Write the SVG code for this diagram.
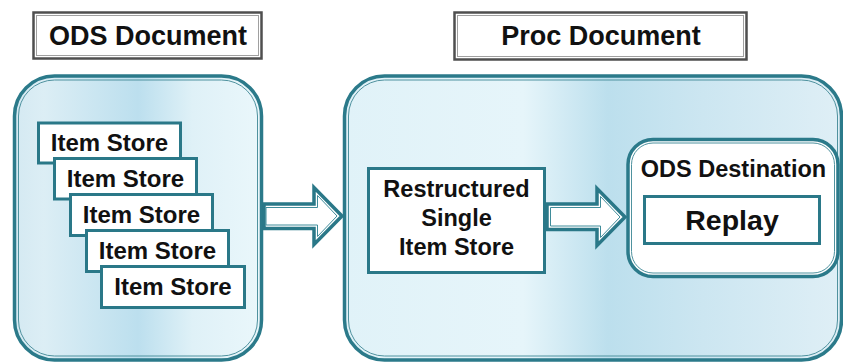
<svg xmlns="http://www.w3.org/2000/svg" width="843" height="362" viewBox="0 0 843 362">
<style>
text{font-family:"Liberation Sans",Arial,sans-serif;font-weight:bold;fill:#111;text-anchor:middle}
.lbl-o{fill:#fff;stroke:#4f4f4f;stroke-width:2.5}
.lbl-i{fill:none;stroke:#a0a0a0;stroke-width:1}
.big-o{stroke:#2b7a8a;stroke-width:3.5}
.big-i{fill:none;stroke:#4f929f;stroke-width:1}
.box{fill:#fff;stroke:#2a7888;stroke-width:3}
.arr-o{fill:#fff;stroke:#2a7888;stroke-width:3.5;stroke-linejoin:miter}
.arr-i{fill:#fff;stroke:#3f8c9a;stroke-width:1}
</style>
<defs>
<linearGradient id="gL" gradientUnits="userSpaceOnUse" x1="14" y1="0" x2="262" y2="0">
<stop offset="0" stop-color="#d4e9f2"/>
<stop offset="0.12" stop-color="#dceef5"/>
<stop offset="0.5" stop-color="#bcdfee"/>
<stop offset="0.72" stop-color="#dff1f7"/>
<stop offset="1" stop-color="#eaf7fb"/>
</linearGradient>
<linearGradient id="gR" gradientUnits="userSpaceOnUse" x1="344" y1="0" x2="842" y2="0">
<stop offset="0" stop-color="#e0f2f8"/>
<stop offset="0.36" stop-color="#e6f5fa"/>
<stop offset="0.53" stop-color="#bcdfed"/>
<stop offset="0.72" stop-color="#cce6f1"/>
<stop offset="1" stop-color="#dfeff6"/>
</linearGradient>
</defs>

<g id="label-ods">
<rect class="lbl-o" x="33.5" y="12.5" width="228" height="46"/>
<rect class="lbl-i" x="36.5" y="15.5" width="222" height="40"/>
<text x="148" y="45" font-size="27">ODS Document</text>
</g>
<g id="label-proc">
<rect class="lbl-o" x="454.5" y="12.5" width="292" height="47"/>
<rect class="lbl-i" x="457.5" y="15.5" width="286" height="41"/>
<text x="601" y="45" font-size="27">Proc Document</text>
</g>

<g id="ods-document">
<rect class="big-o" fill="url(#gL)" x="14.5" y="76" width="247" height="284" rx="40"/>
<rect class="big-i" x="18.5" y="80" width="239" height="276" rx="36"/>
</g>
<g id="proc-document">
<rect class="big-o" fill="url(#gR)" x="344.5" y="76" width="497" height="284" rx="40"/>
<rect class="big-i" x="348.5" y="80" width="489" height="276" rx="36"/>
</g>

<g id="item-store-1"><rect class="box" x="38.5" y="123" width="142" height="40"/><text x="109.5" y="151" font-size="24">Item Store</text></g>
<g id="item-store-2"><rect class="box" x="54.5" y="158.5" width="142" height="40.5"/><text x="125.5" y="187" font-size="24">Item Store</text></g>
<g id="item-store-3"><rect class="box" x="70.5" y="194.5" width="142" height="41"/><text x="141.5" y="223" font-size="24">Item Store</text></g>
<g id="item-store-4"><rect class="box" x="86.5" y="230.5" width="142" height="41"/><text x="157.5" y="259" font-size="24">Item Store</text></g>
<g id="item-store-5"><rect class="box" x="101.5" y="266.5" width="143" height="41"/><text x="173" y="295" font-size="24">Item Store</text></g>

<g id="restructured">
<rect class="box" x="368.5" y="168.5" width="176" height="104"/>
<text x="456.5" y="197" font-size="23.5">Restructured</text>
<text x="456.5" y="226" font-size="23.5">Single</text>
<text x="456.5" y="255" font-size="23.5">Item Store</text>
</g>

<g id="ods-destination">
<rect fill="#fff" class="big-o" x="628" y="139.5" width="210" height="137" rx="25"/>
<rect class="big-i" x="631.5" y="143" width="203" height="130" rx="21.5"/>
<text x="733.5" y="177" font-size="23.5">ODS Destination</text>
</g>
<g id="replay">
<rect class="box" x="644.5" y="196.5" width="175" height="47"/>
<text x="732" y="230" font-size="28.5">Replay</text>
</g>

<g id="connectors">
<path class="arr-o" d="M264,204 H314 V187.5 L342,216 L314,244.5 V228.5 H264 Z"/>
<path class="arr-i" d="M266,207.5 H317.5 V195.5 L337,216 L317.5,236.5 V225 H266 Z"/>
<path class="arr-o" d="M547,204 H597 V188.5 L625,217 L597,245.5 V229.5 H547 Z"/>
<path class="arr-i" d="M550.5,207.5 H600.5 V196.5 L620,217 L600.5,237.5 V226 H550.5 Z"/>
</g>
</svg>
